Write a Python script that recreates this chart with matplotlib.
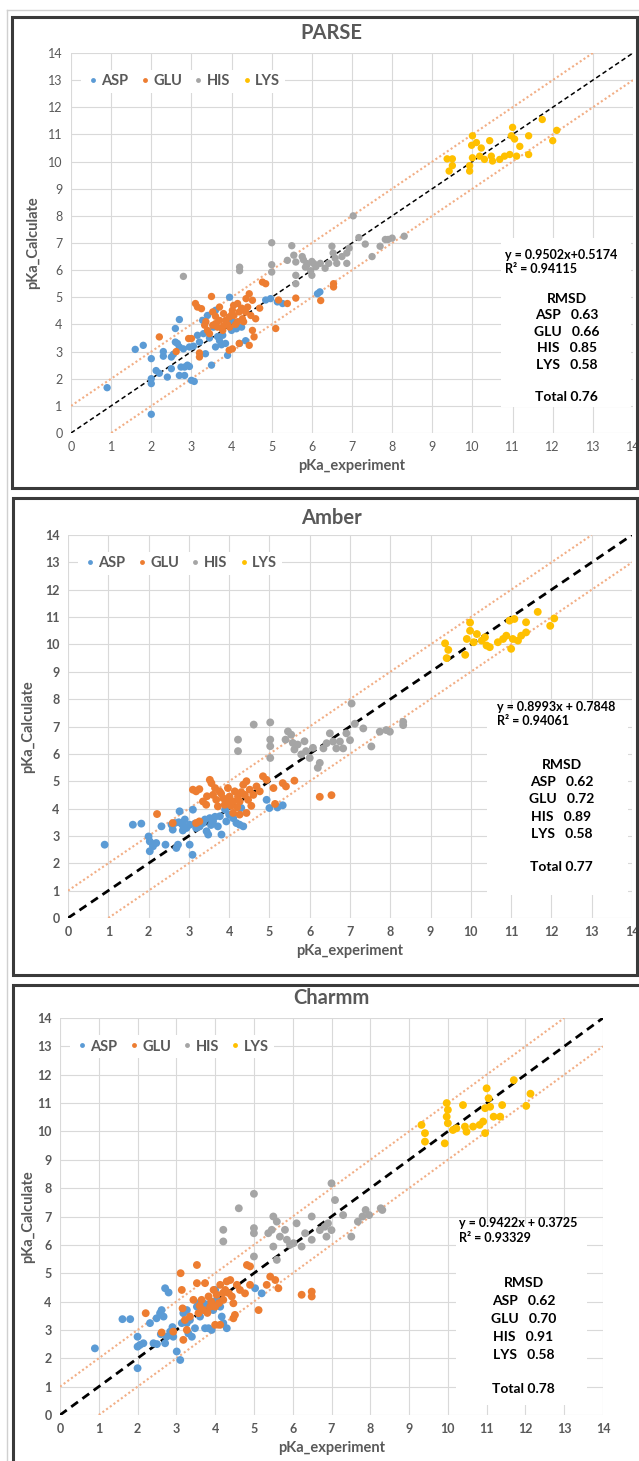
import numpy as np
import matplotlib
matplotlib.use('Agg')
import matplotlib.pyplot as plt
from matplotlib.lines import Line2D
from matplotlib.patches import Rectangle

plt.rcParams['font.family'] = ['Lato', 'DejaVu Sans']

W, H = 639, 1461

residues = ['ASP', 'GLU', 'HIS', 'LYS']
colors = ['#5B9BD5', '#ED7D31', '#A5A5A5', '#FFC000']

# ---- PARSE (experiment, calculated) ----
parse_asp = [(0.9,1.67),(1.6,3.08),(1.8,3.23),(2.0,2.74),(2.0,2.0),(2.0,1.82),(2.0,0.69),(2.12,2.3),(2.2,2.2),
             (2.3,3.0),(2.3,2.83),(2.4,2.06),(2.5,2.37),(2.5,2.8),(2.6,3.85),(2.7,4.18),(2.6,3.35),(2.7,3.17),
             (2.74,2.43),(2.83,2.43),(2.9,2.5),(2.95,3.17),(3.0,1.94),(3.07,1.9),(2.83,2.12),(2.7,2.12),(3.2,3.35),
             (3.3,3.66),(3.35,2.92),(3.5,2.5),(3.55,3.9),(3.6,3.17),(3.7,3.4),(3.78,3.6),(3.85,3.3),(3.9,2.86),
             (4.0,3.78),(4.0,4.15),(4.12,3.84),(4.2,3.3),(4.35,3.4),(3.95,5.0),(4.85,4.9),(4.97,4.95),(5.14,4.83),
             (5.27,4.77),(6.14,5.13),(6.2,5.2),(3.28,4.15),(3.4,4.33),(3.6,4.52),(2.65,3.3),(2.8,3.1),(3.05,3.2),
             (3.45,3.5),(3.75,3.25),(2.95,2.45),(2.55,2.9),(3.65,3.55),(4.25,3.9),(3.15,3.6)]
parse_glu = [(2.2,3.54),(2.62,3.0),(2.93,3.48),(3.0,3.48),(3.1,4.77),(3.15,4.64),(3.25,4.58),(3.2,2.8),(3.2,2.95),
             (3.36,4.1),(3.4,3.78),(3.45,3.66),(3.5,5.03),(3.53,4.46),(3.6,4.03),(3.7,4.64),(3.78,3.78),(3.85,4.15),
             (3.94,4.27),(4.02,4.52),(4.06,4.33),(4.15,4.77),(4.19,4.46),(4.27,4.21),(4.36,4.95),(4.4,4.64),
             (4.44,5.13),(4.48,4.33),(4.52,3.78),(4.6,4.21),(4.56,3.54),(4.44,3.23),(4.19,3.3),(4.02,3.1),(3.94,3.05),
             (4.77,5.56),(4.85,5.5),(4.52,4.89),(5.1,3.85),(5.17,4.9),(5.39,4.77),(5.6,4.97),(3.7,4.15),(3.53,3.97),
             (3.33,3.97),(6.54,5.5),(6.54,5.38),(6.22,4.88),(4.1,4.0),(3.9,4.0),(4.3,4.1),(3.65,3.9),(3.8,4.4),
             (4.05,4.7),(4.25,4.6),(3.95,3.9),(4.15,4.1),(3.6,4.3),(4.35,4.45),(4.7,4.6),(3.8,3.95),(4.0,4.35)]
parse_his = [(2.8,5.77),(4.2,6.11),(4.2,5.98),(5.0,7.01),(5.0,6.2),(5.0,5.93),(5.5,6.9),(5.39,6.36),(5.55,6.55),
             (5.6,6.3),(5.6,5.81),(5.6,5.5),(5.76,6.5),(5.84,6.11),(5.88,6.24),(5.97,5.98),(6.0,5.81),(6.05,6.24),
             (5.79,6.38),(5.88,6.2),(6.0,6.32),(6.1,6.13),(6.21,6.25),(6.33,6.07),(6.5,6.88),(6.53,6.63),(6.62,6.25),
             (6.75,6.5),(6.87,6.25),(6.93,6.81),(7.03,8.0),(7.17,7.2),(7.33,6.96),(7.5,6.5),(7.7,6.88),(7.83,7.13),
             (7.9,7.13),(8.0,7.18),(8.3,7.25),(6.87,6.63),(6.58,6.44),(6.42,6.25)]
parse_lys = [(9.37,10.1),(9.5,10.1),(9.42,9.65),(9.5,9.85),(9.93,9.85),(9.93,9.65),(10.0,10.95),(9.98,10.6),
             (10.1,10.7),(10.18,10.2),(10.22,10.5),(10.3,10.08),(10.43,10.77),(10.47,10.2),(10.5,10.02),(10.68,10.08),
             (10.8,10.2),(10.93,10.26),(10.97,10.95),(11.0,11.26),(11.05,10.83),(11.1,10.2),(11.18,10.56),
             (11.4,10.95),(11.4,10.26),(11.74,11.55),(12.0,10.77),(12.1,11.15),(10.0,10.14)]

# ---- Amber ----
amber_asp = [(0.91,2.68),(1.61,3.41),(1.82,3.45),(2.0,2.98),(2.03,2.8),(2.11,2.7),(2.03,2.44),(2.11,2.62),(2.19,2.74),
             (2.32,3.35),(2.42,2.68),(2.57,3.41),(2.6,3.23),(2.65,3.47),(2.69,2.56),(2.73,2.68),(2.77,3.9),(2.84,3.41),
             (2.94,3.29),(3.02,3.41),(3.02,2.68),(3.09,2.31),(3.1,3.96),(3.18,3.29),(3.27,3.35),(3.35,3.47),(3.44,3.17),
             (3.48,3.05),(3.52,3.65),(3.6,3.53),(3.72,3.35),(3.77,3.72),(3.81,3.05),(3.9,3.96),(3.93,3.53),(4.0,3.78),
             (4.1,3.65),(4.18,3.47),(4.26,3.41),(4.3,4.02),(4.35,3.35),(4.93,4.32),(5.0,4.02),(5.2,4.04),(5.33,4.12),
             (2.75,3.5),(2.9,3.6),(3.15,3.45),(3.4,3.6),(3.65,3.7),(2.85,3.2),(3.55,3.4)]
amber_glu = [(2.21,3.8),(2.6,3.47),(3.1,4.69),(3.18,4.63),(3.26,4.71),(3.18,3.47),(3.26,3.53),(3.35,4.26),(3.43,4.14),
             (3.52,5.05),(3.56,4.93),(3.6,4.5),(3.68,4.32),(3.72,4.08),(3.76,4.63),(3.85,4.38),(3.89,4.14),(3.97,4.75),
             (4.01,4.44),(4.1,4.26),(4.14,4.63),(4.22,4.44),(4.26,4.26),(4.35,4.87),(4.43,5.0),(4.39,4.5),(4.47,4.32),
             (4.51,4.69),(4.6,4.5),(4.43,3.84),(4.26,3.78),(4.1,3.84),(4.68,4.81),(4.76,4.63),(4.84,5.18),(4.93,5.05),
             (5.1,4.75),(5.14,4.17),(5.33,4.93),(5.41,4.81),(5.62,5.02),(6.25,4.43),(6.54,4.49),(3.8,4.55),
             (4.05,4.1),(4.3,4.6),(3.65,4.75),(3.95,4.3),(4.55,4.1),(3.45,4.45),(4.2,4.05)]
amber_his = [(4.22,6.52),(4.22,6.1),(4.61,7.07),(5.02,7.15),(5.02,6.52),(5.02,6.28),(5.02,5.85),(5.4,6.52),(5.46,6.82),
             (5.54,6.7),(5.58,6.4),(5.62,6.16),(5.7,6.34),(5.79,5.98),(5.87,6.46),(5.91,6.1),(6.0,5.85),(6.08,6.22),
             (6.2,5.49),(6.34,6.2),(6.42,6.39),(6.5,6.75),(6.58,6.45),(6.66,6.2),(6.75,6.45),(6.83,6.2),(6.91,6.75),
             (7.0,6.5),(7.04,7.84),(7.12,7.1),(7.33,6.93),(7.53,6.27),(7.74,6.81),(7.9,6.87),(7.99,6.81),(8.32,7.17),
             (8.32,7.05),(6.25,5.67)]
amber_lys = [(9.36,10.04),(9.44,9.8),(9.4,9.5),(9.86,9.62),(9.9,10.2),(9.98,10.5),(9.98,10.8),(10.07,10.08),
             (10.15,10.38),(10.27,10.14),(10.35,10.26),(10.39,9.96),(10.47,9.9),(10.67,10.08),(10.8,10.2),(10.88,10.32),
             (10.96,10.87),(11.0,9.84),(11.04,10.2),(11.08,10.93),(11.17,10.14),(11.25,10.32),(11.37,10.81),
             (11.37,10.44),(11.66,11.19),(11.97,10.68),(12.07,10.95)]

# ---- Charmm ----
charmm_asp = [(0.9,2.35),(1.61,3.38),(1.81,3.38),(2.0,2.76),(2.0,2.41),(2.0,1.65),(2.06,2.47),(2.15,2.53),(2.32,3.24),
              (2.41,2.53),(2.49,3.41),(2.58,3.59),(2.62,3.7),(2.67,3.47),(2.71,4.47),(2.8,4.32),(2.71,2.53),(2.75,2.76),
              (2.84,2.94),(2.92,2.76),(3.01,2.24),(3.1,1.94),(3.14,3.24),(3.18,3.59),(3.27,3.24),(3.31,2.88),(3.4,2.76),
              (3.48,3.06),(3.53,3.82),(3.61,3.47),(3.7,3.94),(3.74,3.06),(3.83,3.06),(3.91,3.0),(4.0,4.41),(4.04,4.06),
              (4.13,3.82),(4.17,3.47),(4.3,3.06),(4.21,3.24),(5.03,4.47),(5.2,4.29),(3.27,3.7),(3.57,3.94),
              (2.5,2.5),(2.9,3.1),(3.35,3.35),(3.8,3.9),(3.95,3.7),(2.6,2.85)]
charmm_glu = [(2.21,3.59),(2.62,2.91),(2.92,2.94),(3.11,5.0),(3.14,4.41),(3.16,3.76),(3.18,2.65),(3.22,3.35),(3.27,3.0),
              (3.53,5.29),(3.53,4.65),(3.57,3.59),(3.65,4.06),(3.7,3.7),(3.74,4.65),(3.83,4.18),(3.87,3.82),(3.96,4.41),
              (4.0,3.82),(4.04,4.24),(4.13,4.59),(4.21,4.06),(4.26,4.41),(4.3,4.71),(4.39,4.76),(4.43,4.18),(4.47,3.94),
              (4.51,3.53),(4.47,3.41),(4.13,3.18),(4.0,3.18),(4.56,4.59),(4.64,4.41),(4.77,4.29),(4.82,5.29),(4.9,5.24),
              (4.9,4.59),(5.12,3.7),(5.33,4.59),(5.42,4.88),(5.55,4.76),(5.63,4.47),(6.23,4.24),(6.49,4.35),(6.49,4.18),
              (3.44,4.06),(3.35,3.47),(3.9,4.0),(4.1,3.95),(4.35,4.3),(3.6,3.85),(4.2,4.3),(3.8,3.6)]
charmm_his = [(4.21,6.53),(4.21,6.12),(4.61,7.29),(5.0,7.8),(5.0,6.59),(5.0,6.41),(5.0,5.59),(5.5,7.0),(5.59,6.82),
              (5.37,6.41),(5.46,6.53),(5.5,5.94),(5.59,5.47),(5.67,6.29),(5.8,6.53),(5.85,6.18),(5.93,6.0),(6.02,6.06),
              (6.1,6.76),(6.23,5.94),(6.32,6.41),(6.49,7.0),(6.49,6.18),(6.7,6.52),(6.83,6.64),(6.91,6.76),(7.0,8.17),
              (7.09,7.58),(7.0,6.52),(6.87,6.29),(7.3,7.05),(7.51,6.29),(7.68,6.82),(7.8,7.0),(7.88,7.23),(7.97,7.05),
              (8.27,7.29),(8.31,7.23)]
charmm_lys = [(9.32,10.23),(9.41,9.94),(9.41,9.64),(9.92,9.58),(9.97,11.0),(10.0,10.76),(9.97,10.52),(10.0,10.29),
              (10.13,10.05),(10.22,10.11),(10.39,10.93),(10.44,10.17),(10.48,9.99),(10.65,10.17),(10.82,10.23),
              (10.91,10.35),(10.96,9.94),(11.0,11.52),(10.96,10.82),(11.05,11.17),(11.09,10.87),(11.18,10.52),
              (11.4,10.93),(11.35,10.52),(11.7,11.81),(12.02,10.9),(12.13,11.33)]

titles = ['PARSE', 'Amber', 'Charmm']
fit_text = ['y = 0.9502x+0.5174\nR² = 0.94115',
            'y = 0.8993x + 0.7848\nR² = 0.94061',
            'y = 0.9422x + 0.3725\nR² = 0.93329']
rmsd_vals = [['0.63', '0.66', '0.85', '0.58', '0.76'],
             ['0.62', '0.72', '0.89', '0.58', '0.77'],
             ['0.62', '0.70', '0.91', '0.58', '0.78']]
panel_data = [[parse_asp, parse_glu, parse_his, parse_lys],
              [amber_asp, amber_glu, amber_his, amber_lys],
              [charmm_asp, charmm_glu, charmm_his, charmm_lys]]

# layout in pixels: axes (left, right, top, bottom), border (left, right, top, bottom)
axes_px = [(71, 633, 53, 433), (68, 632, 535, 918), (60, 603, 1018, 1415)]
border_px = [(12, 637, 17, 488), (13, 637, 498, 975), (13, 660, 985, 1480)]
title_y = [33, 518, 998]
ylab_x = [33, 28, 28]
# white text box behind the fit text, data coords (x0, x1, y0, y1)
box = [(10.7, 13.95, 0.96, 7.2), (10.4, 13.9, 0.85, 7.6), (10.2, 13.6, 0.35, 6.75)]
fit_pos = [(10.8, 6.3), (10.65, 7.45), (10.3, 6.5)]
rmsd_x = [12.35, 12.25, 11.95]
rmsd_top = [4.95, 5.6, 4.65]
line_gap = [0.61, 0.63, 0.63]
dash_lw = [1.1, 2.0, 2.0]
msize = [28, 32, 32]

fig = plt.figure(figsize=(W / 100, H / 100), dpi=100)

# faint outer frame
fig.add_artist(Line2D([7 / W, 7 / W], [0, 1 - 10 / H], color='#D0D0D0', lw=1))
fig.add_artist(Line2D([7 / W, 1], [1 - 10 / H, 1 - 10 / H], color='#D0D0D0', lw=1))

for i in range(3):
    l, r, t, b = axes_px[i]
    ax = fig.add_axes([l / W, 1 - b / H, (r - l) / W, (b - t) / H])
    bl, br, bt, bb = border_px[i]
    fig.add_artist(Rectangle((bl / W, 1 - bb / H), (br - bl) / W, (bb - bt) / H,
                             transform=fig.transFigure, fill=False, ec='#3A3A3A', lw=2.2))

    ax.set_xlim(0, 14)
    ax.set_ylim(0, 14)
    ax.set_xticks(range(15))
    ax.set_yticks(range(15))
    ax.grid(True, color='#D9D9D9', lw=0.8)
    ax.set_axisbelow(True)
    for s in ax.spines.values():
        s.set_visible(False)
    ax.tick_params(length=0, labelsize=9, labelcolor='#595959', pad=6)
    wt = 'normal' if i == 0 else 'bold'
    for lab in ax.get_xticklabels() + ax.get_yticklabels():
        lab.set_fontweight(wt)

    x0, x1, y0, y1 = box[i]
    ax.add_patch(Rectangle((x0, y0), x1 - x0, y1 - y0, fc='white', ec='none', zorder=1))

    xs = np.array([0, 14])
    ax.plot(xs, xs, color='black', lw=dash_lw[i], ls=(0, (3, 2)), zorder=2)
    ax.plot([0, 13], [1, 14], color='#F2AE85', lw=1.5, ls=(0, (1, 1.2)), zorder=2)
    ax.plot([1, 14], [0, 13], color='#F2AE85', lw=1.5, ls=(0, (1, 1.2)), zorder=2)

    for pts, c in zip(panel_data[i], colors):
        arr = np.array(pts)
        ax.scatter(arr[:, 0], arr[:, 1], s=msize[i], color=c, edgecolors='none', zorder=3)

    handles = [Line2D([], [], ls='none', marker='o', ms=3.5, color=c, mec='none') for c in colors]
    leg = ax.legend(handles, residues, loc='upper left', bbox_to_anchor=(0.005, 0.975), ncol=4,
                    frameon=True, fancybox=False, edgecolor='none', framealpha=1,
                    handletextpad=0.1, columnspacing=0.6, handlelength=1.0, borderpad=0.3,
                    prop={'weight': 'bold', 'size': 10.5})
    for txt in leg.get_texts():
        txt.set_color('#595959')

    ax.set_xlabel('pKa_experiment', fontsize=10.5, fontweight='bold', color='#595959', labelpad=4)
    fig.text(ylab_x[i] / W, 1 - ((t + b) / 2) / H, 'pKa_Calculate', rotation=90, fontsize=10.5,
             fontweight='bold', color='#595959', ha='center', va='center')
    fig.text(331 / W, 1 - title_y[i] / H, titles[i], fontsize=14.5, fontweight='bold',
             color='#595959', ha='center', va='center')

    fx, fy = fit_pos[i]
    ax.text(fx, fy, fit_text[i], fontsize=9, fontweight='bold', color='black',
            va='center', ha='left', linespacing=1.25, zorder=4)
    rows = ['RMSD'] + [f'{n}   {v}' for n, v in zip(residues, rmsd_vals[i][:4])]
    for k, row in enumerate(rows):
        ax.text(rmsd_x[i], rmsd_top[i] - k * line_gap[i], row, fontsize=10, fontweight='bold',
                color='black', ha='center', va='center', zorder=4)
    ax.text(rmsd_x[i], rmsd_top[i] - 6 * line_gap[i] + 0.05, 'Total ' + rmsd_vals[i][4], fontsize=10,
            fontweight='bold', color='black', ha='center', va='center', zorder=4)

fig.savefig('out.png', dpi=100)
